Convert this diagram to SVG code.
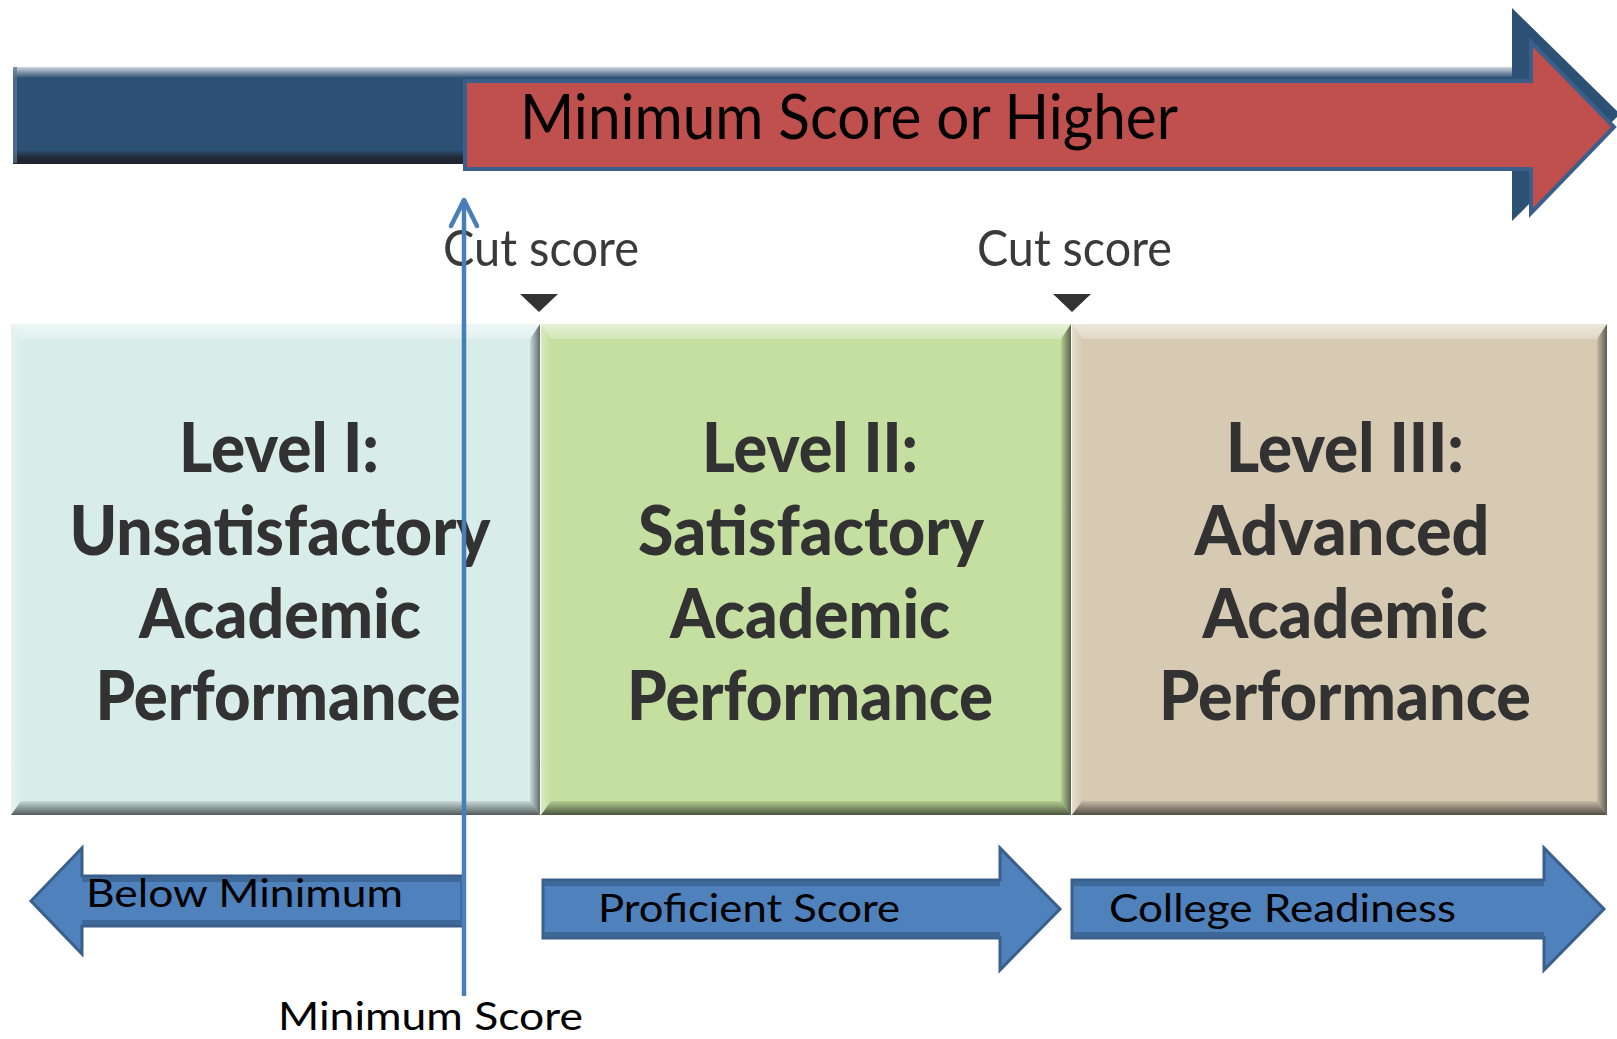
<svg xmlns="http://www.w3.org/2000/svg" width="1617" height="1039" viewBox="0 0 1617 1039">
<defs>
<style>
.lvl{font-family:Lato,"Liberation Sans",sans-serif;font-weight:900;font-size:68px;fill:#323232;text-anchor:middle}
.cut{font-family:Lato,"Liberation Sans",sans-serif;font-size:50px;fill:#3a3a3a}
.lbl{font-family:Lato,"Liberation Sans",sans-serif;font-size:38px;fill:#000}
.big{font-family:Lato,"Liberation Sans",sans-serif;font-size:61px;fill:#000}
.barrow{fill:#4f81bd;stroke:#3a5f8b;stroke-width:3}
.shade{fill:#3e6898}
</style>
<linearGradient id="navyTop" x1="0" y1="0" x2="0" y2="1"><stop offset="0" stop-color="#cfd6df"/><stop offset="1" stop-color="#2d5174"/></linearGradient>
<linearGradient id="navyBot" x1="0" y1="0" x2="0" y2="1"><stop offset="0" stop-color="#2d5174"/><stop offset="0.5" stop-color="#232a38"/><stop offset="1" stop-color="#1e2430"/></linearGradient>
<linearGradient id="bevTop" x1="0" y1="0" x2="0" y2="1"><stop offset="0" stop-color="#fff" stop-opacity="0.55"/><stop offset="1" stop-color="#fff" stop-opacity="0.25"/></linearGradient>
<linearGradient id="bevBot" x1="0" y1="0" x2="0" y2="1"><stop offset="0" stop-color="#000" stop-opacity="0.08"/><stop offset="1" stop-color="#000" stop-opacity="0.62"/></linearGradient>
<linearGradient id="bevRight" x1="0" y1="0" x2="1" y2="0"><stop offset="0" stop-color="#000" stop-opacity="0.08"/><stop offset="1" stop-color="#000" stop-opacity="0.55"/></linearGradient>
<linearGradient id="bevLeft" x1="0" y1="0" x2="1" y2="0"><stop offset="0" stop-color="#fff" stop-opacity="0.35"/><stop offset="1" stop-color="#fff" stop-opacity="0"/></linearGradient>
<marker id="openArrow" markerUnits="userSpaceOnUse" viewBox="-32 -18 36 36" refX="0" refY="0" markerWidth="36" markerHeight="36" orient="auto" overflow="visible">
<path d="M-26,-13 L0,0 L-26,13" fill="none" stroke="#4a7ebb" stroke-width="4.5" stroke-linecap="round" stroke-linejoin="round"/>
</marker>
</defs>
<rect width="1617" height="1039" fill="#fff"/>

<g id="scale-bar">
<polygon points="13,67 1512,67 1512,8 1620,114 1512,221 1512,163 13,163" fill="#2d5174"/>
<rect x="13" y="67" width="1499" height="11" fill="url(#navyTop)"/>
<rect x="13" y="150" width="1499" height="14" fill="url(#navyBot)"/>
<rect x="13" y="67" width="4" height="96" fill="#5a7794" opacity="0.7"/>
</g>

<g id="minimum-or-higher">
<polygon points="465,81 1531,81 1531,42 1614,127 1531,213 1531,169 465,169" fill="#c0504d" stroke="#3a5f8b" stroke-width="4"/>
<text class="big" x="520" y="139" textLength="658" lengthAdjust="spacingAndGlyphs">Minimum Score or Higher</text>
</g>

<g id="cut-score-1">
<text class="cut" x="443" y="266" textLength="196" lengthAdjust="spacingAndGlyphs">Cut score</text>
<polygon points="520,294 558,294 539,312" fill="#333"/>
</g>
<g id="cut-score-2">
<text class="cut" x="977" y="266" textLength="195" lengthAdjust="spacingAndGlyphs">Cut score</text>
<polygon points="1053,294 1091,294 1072,312" fill="#333"/>
</g>

<g id="level-1">
<rect x="11" y="324" width="529" height="491" fill="#d8edea"/>
<polygon points="11,324 540,324 530,339 21,339" fill="url(#bevTop)"/>
<polygon points="11,324 21,339 21,801 11,815" fill="url(#bevLeft)"/>
<polygon points="540,324 540,815 530,801 530,339" fill="url(#bevRight)"/>
<polygon points="11,815 540,815 530,801 21,801" fill="url(#bevBot)"/>
<text class="lvl" x="279" y="472" textLength="200" lengthAdjust="spacingAndGlyphs">Level I:</text>
<text class="lvl" x="280" y="555" textLength="421" lengthAdjust="spacingAndGlyphs">Unsatisfactory</text>
<text class="lvl" x="280" y="638" textLength="282" lengthAdjust="spacingAndGlyphs">Academic</text>
<text class="lvl" x="278" y="720" textLength="365" lengthAdjust="spacingAndGlyphs">Performance</text>
</g>

<g id="level-2">
<rect x="541" y="324" width="530" height="491" fill="#c5dfa1"/>
<polygon points="541,324 1071,324 1061,339 551,339" fill="url(#bevTop)"/>
<polygon points="541,324 551,339 551,801 541,815" fill="url(#bevLeft)"/>
<polygon points="1071,324 1071,815 1061,801 1061,339" fill="url(#bevRight)"/>
<polygon points="541,815 1071,815 1061,801 551,801" fill="url(#bevBot)"/>
<text class="lvl" x="810" y="472" textLength="216" lengthAdjust="spacingAndGlyphs">Level II:</text>
<text class="lvl" x="811" y="555" textLength="346" lengthAdjust="spacingAndGlyphs">Satisfactory</text>
<text class="lvl" x="810" y="638" textLength="280" lengthAdjust="spacingAndGlyphs">Academic</text>
<text class="lvl" x="810" y="720" textLength="366" lengthAdjust="spacingAndGlyphs">Performance</text>
</g>

<g id="level-3">
<rect x="1072" y="324" width="535" height="491" fill="#d7cab2"/>
<polygon points="1072,324 1607,324 1597,339 1082,339" fill="url(#bevTop)"/>
<polygon points="1072,324 1082,339 1082,801 1072,815" fill="url(#bevLeft)"/>
<polygon points="1607,324 1607,815 1597,801 1597,339" fill="url(#bevRight)"/>
<polygon points="1072,815 1607,815 1597,801 1082,801" fill="url(#bevBot)"/>
<text class="lvl" x="1345" y="472" textLength="238" lengthAdjust="spacingAndGlyphs">Level III:</text>
<text class="lvl" x="1342" y="555" textLength="295" lengthAdjust="spacingAndGlyphs">Advanced</text>
<text class="lvl" x="1345" y="638" textLength="285" lengthAdjust="spacingAndGlyphs">Academic</text>
<text class="lvl" x="1345" y="720" textLength="372" lengthAdjust="spacingAndGlyphs">Performance</text>
</g>

<g id="below-minimum">
<polygon class="barrow" points="31,901 82,848 82,876 462,876 462,926 82,926 82,954"/>
<rect class="shade" x="82" y="877" width="380" height="5"/>
<rect class="shade" x="82" y="920" width="380" height="5"/>
<text class="lbl" x="86" y="907" textLength="317" lengthAdjust="spacingAndGlyphs">Below Minimum</text>
</g>

<g id="proficient-score">
<polygon class="barrow" points="543,880 1000,880 1000,848 1060,909 1000,970 1000,938 543,938"/>
<rect class="shade" x="544" y="881" width="456" height="5"/>
<rect class="shade" x="544" y="932" width="456" height="5"/>
<text class="lbl" x="598" y="922" textLength="302" lengthAdjust="spacingAndGlyphs">Proficient Score</text>
</g>

<g id="college-readiness">
<polygon class="barrow" points="1072,880 1544,880 1544,848 1604,909 1544,970 1544,938 1072,938"/>
<rect class="shade" x="1073" y="881" width="471" height="5"/>
<rect class="shade" x="1073" y="932" width="471" height="5"/>
<text class="lbl" x="1109" y="922" textLength="347" lengthAdjust="spacingAndGlyphs">College Readiness</text>
</g>

<g id="connectors">
<line x1="464" y1="996" x2="464" y2="200" stroke="#4a7ebb" stroke-width="4.5" marker-end="url(#openArrow)"/>
</g>

<g id="minimum-score">
<text class="lbl" x="278" y="1030" textLength="305" lengthAdjust="spacingAndGlyphs">Minimum Score</text>
</g>
</svg>
